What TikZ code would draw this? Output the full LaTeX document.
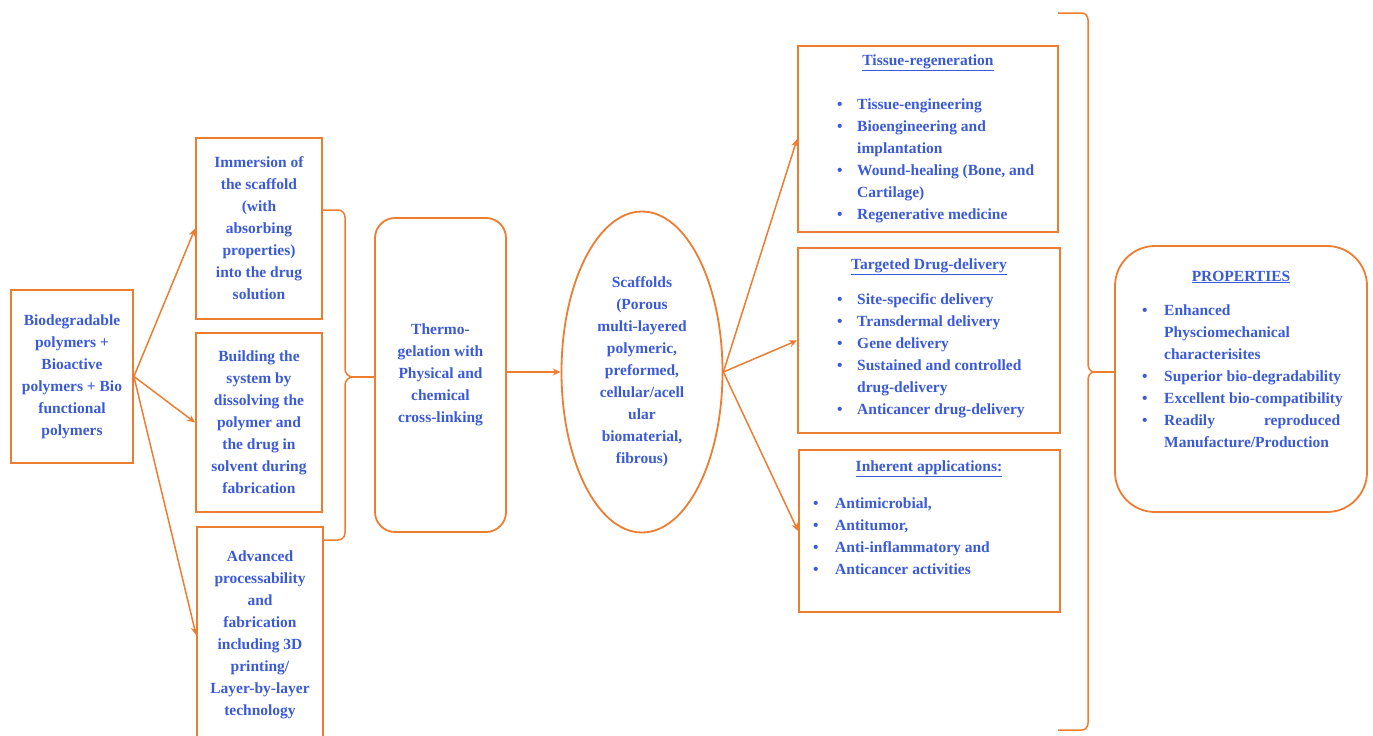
\documentclass[tikz,border=0pt]{standalone}
\usepackage{fontspec}
\setmainfont{Liberation Serif}
\usetikzlibrary{arrows.meta,shapes.geometric}
\definecolor{orng}{HTML}{ED7D31}
\definecolor{txtb}{HTML}{3B5BD6}
\newcommand\bu{\makebox[20pt][l]{•}}
\newcommand\bi{\hspace*{20pt}}
\newcommand\bw{\makebox[22pt][l]{•}}
\newcommand\bj{\hspace*{22pt}}
\begin{document}
\begin{tikzpicture}[x=1pt,y=-1pt,
  every node/.style={font=\bfseries\fontsize{15.5}{22}\selectfont, text=txtb},
  box/.style={draw=orng, line width=1.8pt, inner sep=0pt, align=center},
  conn/.style={draw=orng, line width=1.5pt},
  arr/.style={conn, -{Stealth[length=8pt,width=7pt]}},
  lst/.style={anchor=west, align=left, inner sep=0pt}]
\useasboundingbox (0,0) rectangle (1373,736);
\fill[white] (0,0) rectangle (1373,736);

% left column
\node[box, minimum width=122pt, minimum height=173pt] (src) at (72,376.5)
  {Biodegradable\\polymers +\\Bioactive\\polymers + Bio\\functional\\polymers};
\node[box, minimum width=126pt, minimum height=181pt] (A) at (259,228.5)
  {Immersion of\\the scaffold\\(with\\absorbing\\properties)\\into the drug\\solution};
\node[box, minimum width=126pt, minimum height=179pt] (B) at (259,422.5)
  {Building the\\system by\\dissolving the\\polymer and\\the drug in\\solvent during\\fabrication};
\node[box, minimum width=126pt, minimum height=216pt] (C) at (260,635)
  {Advanced\\processability\\and\\fabrication\\including 3D\\printing/\\Layer-by-layer\\technology};

\draw[arr] (src.east) -- (A.west);
\draw[arr] (src.east) -- (B.west);
\draw[arr] (src.east) -- (C.west);

% small brace
\coordinate (btip) at (353,377);
\draw[conn] (A.east |- 0,210) -- (338,210) to[out=0,in=90] (345,217) -- (345,369) to[out=-90,in=180] (btip);
\draw[conn] (btip) to[out=180,in=90] (345,385) -- (345,533) to[out=-90,in=0] (338,540) -- (C.east |- 0,540);

% middle
\node[box, rounded corners=20pt, minimum width=131pt, minimum height=314pt] (thermo) at (440.5,375)
  {Thermo-\\gelation with\\Physical and\\chemical\\cross-linking};
\draw[conn] (btip) -- (thermo.west |- btip);

\node[box, ellipse, minimum width=161pt, minimum height=321pt] (ell) at (642,372)
  {Scaffolds\\(Porous\\multi-layered\\polymeric,\\preformed,\\cellular/acell\\ular\\biomaterial,\\fibrous)};
\draw[arr] (thermo.east |- ell.west) -- (ell.west);

% right boxes
\node[box, minimum width=260pt, minimum height=186pt] (T) at (928,139) {};
\node[box, minimum width=262pt, minimum height=185pt] (TD) at (929,340.5) {};
\node[box, minimum width=261pt, minimum height=162pt] (IA) at (929.5,531) {};

\draw[arr] (ell.east) -- (T.west);
\draw[arr] (ell.east) -- (TD.west);
\draw[arr] (ell.east) -- (IA.west);

\node (tT) at (928,63) {\underline{Tissue-regeneration}};
\node[lst] (lT) at (837,161) {\bu Tissue-engineering\\\bu Bioengineering and\\\bi implantation\\\bu Wound-healing (Bone, and\\\bi Cartilage)\\\bu Regenerative medicine};

\node (tTD) at (929,267) {\underline{Targeted Drug-delivery}};
\node[lst] (lTD) at (837,355.5) {\bu Site-specific delivery\\\bu Transdermal delivery\\\bu Gene delivery\\\bu Sustained and controlled\\\bi drug-delivery\\\bu Anticancer drug-delivery};

\node (tIA) at (929,469) {\underline{Inherent applications:}};
\node[lst] (lIA) at (813,536.5) {\bw Antimicrobial,\\\bw Antitumor,\\\bw Anti-inflammatory and\\\bw Anticancer activities};

% big brace
\coordinate (Btip) at (1094,372);
\draw[conn] (1058,13) -- (1082,13) to[out=0,in=90] (1088,20) -- (1088,364) to[out=-90,in=180] (Btip);
\draw[conn] (Btip) to[out=180,in=90] (1088,380) -- (1088,723) to[out=-90,in=0] (1082,730) -- (1058,730);

% properties
\node[box, rounded corners=40pt, minimum width=252pt, minimum height=266pt] (P) at (1241,379) {};
\draw[conn] (Btip) -- (P.west |- Btip);
\node (tP) at (1241,277) {\underline{PROPERTIES}};
\node[lst] (lP) at (1142,376) {\bw Enhanced\\\bj Physciomechanical\\\bj characterisites\\\bw Superior bio-degradability\\\bw Excellent bio-compatibility\\\bw \makebox[176pt]{Readily\hfill reproduced}\\\bj Manufacture/Production};
\end{tikzpicture}
\end{document}
